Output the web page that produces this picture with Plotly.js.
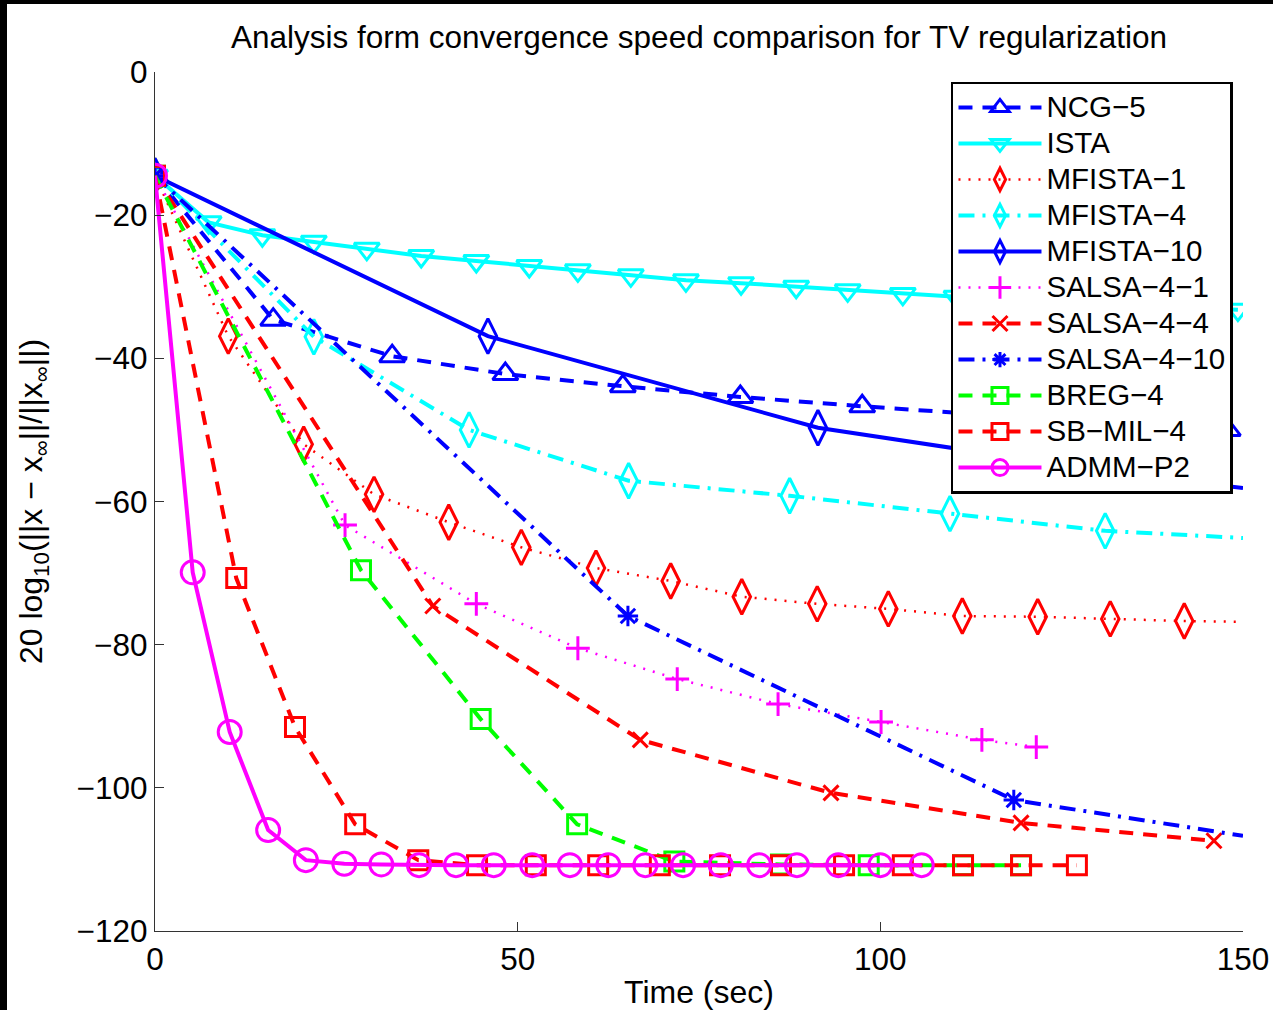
<!DOCTYPE html>
<html>
<head>
<meta charset="utf-8">
<script src="https://cdn.plot.ly/plotly-3.0.1.min.js"></script>
<style>
  html, body { margin: 0; padding: 0; background: #ffffff; }
  #wrap { width: 1266px; height: 1006px; border-top: 4px solid #000; border-left: 7px solid #000; }
  #chart { width: 1266px; height: 1006px; }
</style>
</head>
<body>
<div id="wrap"><div id="chart"></div></div>
<script>
// ---- data (time in sec, error in dB) ----
const seriesNames = ["NCG\u22125", "ISTA", "MFISTA\u22121", "MFISTA\u22124", "MFISTA\u221210",
  "SALSA\u22124\u22121", "SALSA\u22124\u22124", "SALSA\u22124\u221210", "BREG\u22124", "SB\u2212MIL\u22124", "ADMM\u2212P2"];

const tNCG5 = [0, 16.3, 32.7, 48.3, 64.5, 80.7, 97.5, 113.8, 130.6, 147.9];
const yNCG5 = [-14.5, -34.6, -39.7, -42.2, -43.9, -45.4, -46.7, -47.9, -49.0, -50.0];

const tISTA = [0, 7.4, 14.8, 21.9, 29.2, 36.7, 44.3, 51.6, 58.3, 65.6, 73.2, 80.8, 88.4, 95.5, 103.1, 110.5, 117.9, 125.3, 132.7, 140.1, 149.3];
const yISTA = [-14.5, -21.0, -22.8, -23.7, -24.7, -25.7, -26.4, -27.1, -27.7, -28.4, -29.1, -29.5, -30.0, -30.5, -31.0, -31.4, -31.8, -32.2, -32.6, -32.9, -33.2];

const tMFISTA1 = [0, 10.1, 20.5, 30.2, 40.5, 50.5, 60.8, 71.1, 80.9, 91.3, 101.1, 111.3, 121.7, 131.7, 141.9, 150];
const yMFISTA1 = [-14.5, -36.9, -52.0, -59.0, -62.9, -66.4, -69.3, -71.1, -73.3, -74.3, -75.0, -76.0, -76.1, -76.4, -76.7, -76.8];

const tMFISTA4 = [0, 21.9, 43.3, 65.3, 87.5, 109.6, 131.0, 150];
const yMFISTA4 = [-14.5, -37.0, -50.0, -57.1, -59.2, -61.7, -64.1, -65.1];

const tMFISTA10 = [0, 45.9, 91.4, 134.7, 150];
const yMFISTA10 = [-14.5, -36.9, -49.7, -56.3, -58.1];

const tSALSA41 = [0, 26.2, 44.3, 58.3, 72.0, 85.9, 100.1, 114.0, 121.5];
const ySALSA41 = [-14.5, -63.3, -74.3, -80.5, -84.8, -88.3, -90.8, -93.3, -94.3];

const tSALSA44 = [0, 38.3, 66.9, 93.2, 119.4, 146.0];
const ySALSA44 = [-14.5, -74.6, -93.3, -100.7, -104.9, -107.4];

const tSALSA410 = [0, 65.2, 118.4, 150];
const ySALSA410 = [-14.5, -76.0, -101.7, -106.7];

const tBREG4 = [0, 28.4, 44.9, 58.2, 71.6, 86.3, 98.4, 111.4, 119.4];
const yBREG4 = [-14.5, -69.6, -90.4, -105.1, -110.3, -110.7, -110.8, -110.8, -110.8];

const tSBMIL4 = [0, 11.2, 19.3, 27.6, 36.3, 44.4, 52.5, 61.1, 69.6, 77.9, 86.3, 95.0, 103.1, 111.4, 119.4, 127.1];
const ySBMIL4 = [-14.5, -70.7, -91.5, -105.1, -110.1, -110.8, -110.8, -110.8, -110.8, -110.8, -110.8, -110.8, -110.8, -110.8, -110.8, -110.8];

const tADMM = [0, 5.2, 10.3, 15.6, 20.8, 26.1, 31.2, 36.4, 41.5, 46.7, 52.0, 57.2, 62.5, 67.6, 72.8, 78.0, 83.3, 88.5, 94.2, 100.0, 105.7];
const yADMM = [-14.5, -69.9, -92.2, -105.9, -110.1, -110.6, -110.7, -110.8, -110.8, -110.8, -110.8, -110.8, -110.8, -110.8, -110.8, -110.8, -110.8, -110.8, -110.8, -110.8, -110.8];

const xTicks = [0, 50, 100, 150];
const yTicks = [0, -20, -40, -60, -80, -100, -120];

// ---- styles ----
const FONT = "Liberation Sans, Arial, Helvetica, sans-serif";
const styles = [
  {t: tNCG5, y: yNCG5, color: "#0000ff", dash: "14px,10px", w: 4, sym: "triangle-up-open", ms: 22, unmarkedTail: 0},
  {t: tISTA, y: yISTA, color: "#00ffff", dash: "solid", w: 4, sym: "triangle-down-open", ms: 22, unmarkedTail: 0},
  {t: tMFISTA1, y: yMFISTA1, color: "#ff0000", dash: "2px,8px", w: 2.5, sym: "diamond-tall-open", ms: 25, unmarkedTail: 1},
  {t: tMFISTA4, y: yMFISTA4, color: "#00ffff", dash: "16px,8px,3px,8px", w: 4, sym: "diamond-tall-open", ms: 25, unmarkedTail: 1},
  {t: tMFISTA10, y: yMFISTA10, color: "#0000ff", dash: "solid", w: 4, sym: "diamond-tall-open", ms: 25, unmarkedTail: 1},
  {t: tSALSA41, y: ySALSA41, color: "#ff00ff", dash: "2px,8px", w: 2.5, sym: "cross-thin-open", ms: 17, unmarkedTail: 0},
  {t: tSALSA44, y: ySALSA44, color: "#ff0000", dash: "14px,10px", w: 4, sym: "x-thin-open", ms: 15, unmarkedTail: 0},
  {t: tSALSA410, y: ySALSA410, color: "#0000ff", dash: "16px,8px,3px,8px", w: 4, sym: "asterisk-open", ms: 17, unmarkedTail: 1},
  {t: tBREG4, y: yBREG4, color: "#00ff00", dash: "14px,10px", w: 4, sym: "square-open", ms: 19, unmarkedTail: 0},
  {t: tSBMIL4, y: ySBMIL4, color: "#ff0000", dash: "14px,10px", w: 4, sym: "square-open", ms: 19, unmarkedTail: 0},
  {t: tADMM, y: yADMM, color: "#ff00ff", dash: "solid", w: 4, sym: "circle-open", ms: 23, unmarkedTail: 0}
];

const LEGEND_TEXT_PX = 29.5;
const traces = styles.map((s, i) => {
  const n = s.t.length;
  const sizes = s.t.map((_, k) => (k >= n - s.unmarkedTail ? 0 : s.ms));
  return {
    type: "scatter",
    mode: "lines+markers",
    name: '<span style="font-size:' + LEGEND_TEXT_PX + 'px">' + seriesNames[i] + '</span>',
    x: s.t,
    y: s.y,
    line: {color: s.color, width: s.w, dash: s.dash},
    marker: {symbol: s.sym, size: sizes, opacity: 1, color: s.color, line: {color: s.color, width: 3}},
    cliponaxis: true
  };
});

const axisCommon = {
  showgrid: false,
  zeroline: false,
  showline: true,
  linecolor: "#333333",
  linewidth: 1.2,
  ticks: "inside",
  ticklen: 9,
  tickwidth: 1.2,
  tickcolor: "#333333",
  tickfont: {family: FONT, size: 31.5, color: "#000"},
  mirror: false,
  automargin: false
};

const layout = {
  width: 1266,
  height: 1006,
  margin: {l: 148, r: 30, t: 68, b: 79},
  paper_bgcolor: "#ffffff",
  plot_bgcolor: "#ffffff",
  font: {family: FONT, size: 28, color: "#000"},
  title: {
    text: "Analysis form convergence speed comparison for TV regularization",
    font: {family: FONT, size: 31.5, color: "#000"},
    x: 0.5, xref: "paper", xanchor: "center",
    y: 0.967, yref: "container", yanchor: "middle"
  },
  xaxis: Object.assign({}, axisCommon, {
    range: [0, 150],
    tickvals: xTicks,
    ticktext: xTicks.map(String),
    title: {text: "Time (sec)", font: {family: FONT, size: 32, color: "#000"}, standoff: 8}
  }),
  yaxis: Object.assign({}, axisCommon, {
    range: [-120, 0],
    tickvals: yTicks,
    ticktext: yTicks.map(v => (v < 0 ? "\u2212" + Math.abs(v) : String(v))),
    title: {text: "20 log<sub>10</sub>(||x \u2212 x<sub>\u221e</sub>||/||x<sub>\u221e</sub>||)", font: {family: FONT, size: 32, color: "#000"}, standoff: 24}
  }),
  showlegend: true,
  legend: {
    x: 0.7316, y: 0.9885, xanchor: "left", yanchor: "top",
    xref: "paper", yref: "paper",
    bgcolor: "#ffffff",
    bordercolor: "#000000",
    borderwidth: 2.5,
    font: {family: FONT, size: 25.4, color: "#000"},
    itemwidth: 83,
    tracegroupgap: 0
  }
};

Plotly.newPlot("chart", traces, layout, {displayModeBar: false, staticPlot: true});
</script>
</body>
</html>
